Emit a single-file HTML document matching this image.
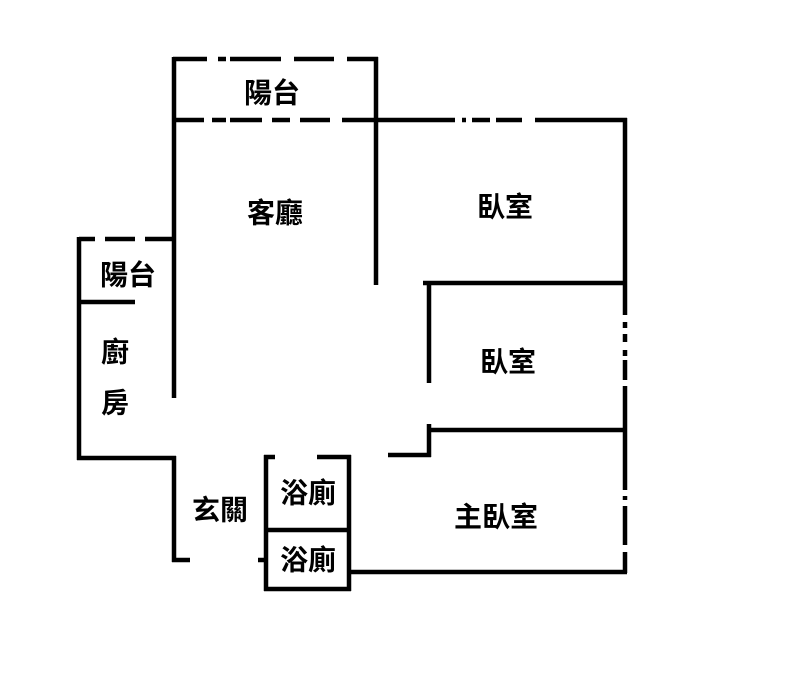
<!DOCTYPE html>
<html><head><meta charset="utf-8"><style>
html,body{margin:0;padding:0;background:#fff;}
svg{display:block;}
text{font-family:"Liberation Sans","Noto Sans CJK TC",sans-serif;font-size:28px;font-weight:600;fill:#000;text-anchor:middle;dominant-baseline:central;}
</style></head><body>
<svg width="792" height="687" viewBox="0 0 792 687" stroke="#000" stroke-width="4.5" fill="none">
<path d="M173 59H207M218 59H226M230 59H281M294 59H334M347 59H378"/>
<path d="M174 57V120M376 57V285"/>
<path d="M172 120H204M212 120H226M230 120H262M272 120H290M300 120H330M342 120H376"/>
<path d="M376 120H455M462 120H466M472 120H490M496 120H522M535 120H627"/>
<path d="M625 118V315M625 322V328M625 334V342M625 350V356M625 360V380M625 386V490M625 496V500M625 506V545M625 552V573"/>
<path d="M423 283H625M429 283V383M429 430H625M429 424V457M388 455H431"/>
<path d="M174 120V398"/>
<path d="M79 239H95M105 239H135M145 239H174"/>
<path d="M79 237V460M77 302H135M77 458H176M174 456V562M172 560H190"/>
<path d="M266 455V591M264 457H275M317 457H351M349 455V574M264 530H351M264 589H351M349 560V591M258 560H266M347 572H627"/>
<g stroke="none">
<text x="272" y="93">陽台</text>
<text x="275" y="213">客廳</text>
<text x="505" y="207">臥室</text>
<text x="128" y="275">陽台</text>
<text x="115" y="352">廚</text>
<text x="115" y="403">房</text>
<text x="508" y="362">臥室</text>
<text x="220" y="510">玄關</text>
<text x="308" y="493">浴廁</text>
<text x="308" y="560">浴廁</text>
<text x="496" y="517">主臥室</text>
</g>
</svg>
</body></html>
